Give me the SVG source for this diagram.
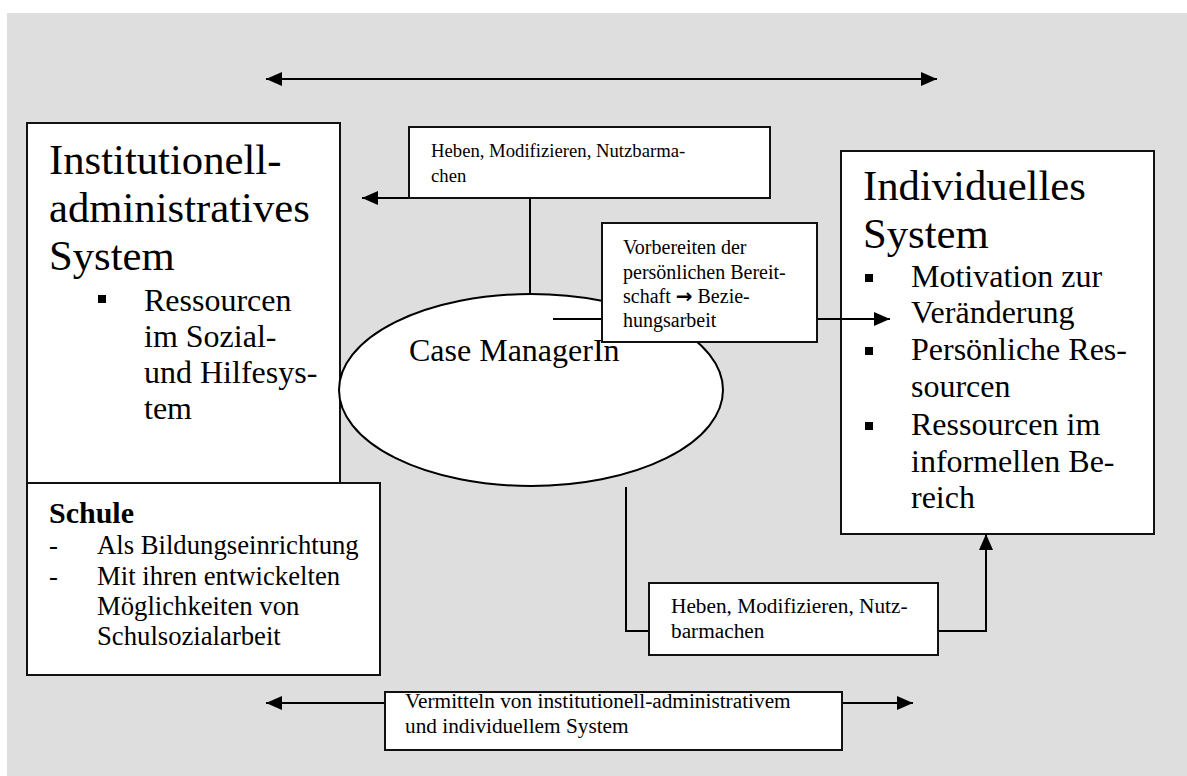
<svg xmlns="http://www.w3.org/2000/svg" width="1187" height="776" viewBox="0 0 1187 776">
<defs>
<style>
.box{fill:#fff;stroke:#111;stroke-width:2}
.t{font-family:"Liberation Serif","Times New Roman",serif;fill:#000}
.big{font-size:42.7px}
.mid{font-size:32px}
.sm{font-size:18.7px}
.sm2{font-size:20px}
.lg{font-size:21.3px}
.md{font-size:26.7px}
.ln{fill:none;stroke:#000;stroke-width:2}
.bul{fill:#000}
.arr{font-family:"DejaVu Sans",sans-serif;font-weight:bold}
</style>
<marker id="ah" viewBox="0 0 16 14" refX="16" refY="7" markerWidth="16" markerHeight="14" markerUnits="userSpaceOnUse" orient="auto-start-reverse">
<path d="M0,0 L16,7 L0,14 z" fill="#000"/>
</marker>
</defs>
<rect x="7" y="13" width="1180" height="763" fill="#dedede"/>

<g id="inst">
<rect class="box" x="27" y="123" width="313" height="360"/>
<text class="t big" x="49" y="174">Institutionell-</text>
<text class="t big" x="49" y="222">administratives</text>
<text class="t big" x="49" y="270">System</text>
<rect class="bul" x="98" y="295" width="8" height="8"/>
<text class="t mid" x="144" y="311">Ressourcen</text>
<text class="t mid" x="144" y="347">im Sozial-</text>
<text class="t mid" x="144" y="383">und Hilfesys-</text>
<text class="t mid" x="144" y="419">tem</text>
</g>

<g id="schule">
<rect class="box" x="27" y="483" width="353" height="192"/>
<text class="t" x="49" y="523" font-size="30" font-weight="bold">Schule</text>
<text class="t md" x="49" y="554">-</text>
<text class="t md" x="97" y="554">Als Bildungseinrichtung</text>
<text class="t md" x="49" y="585">-</text>
<text class="t md" x="97" y="585">Mit ihren entwickelten</text>
<text class="t md" x="97" y="615">Möglichkeiten von</text>
<text class="t md" x="97" y="645">Schulsozialarbeit</text>
</g>

<g id="case">
<ellipse cx="531" cy="390" rx="192" ry="96" fill="#fff" stroke="#000" stroke-width="2"/>
<text class="t mid" x="409" y="361">Case ManagerIn</text>
</g>

<g id="indiv">
<rect class="box" x="841" y="151" width="313" height="383"/>
<text class="t big" x="863" y="200">Individuelles</text>
<text class="t big" x="863" y="248">System</text>
<rect class="bul" x="865" y="274" width="8" height="8"/>
<text class="t mid" x="911" y="287">Motivation zur</text>
<text class="t mid" x="911" y="323">Veränderung</text>
<rect class="bul" x="865" y="347" width="8" height="8"/>
<text class="t mid" x="911" y="360">Persönliche Res-</text>
<text class="t mid" x="911" y="397">sourcen</text>
<rect class="bul" x="865" y="422" width="8" height="8"/>
<text class="t mid" x="911" y="435">Ressourcen im</text>
<text class="t mid" x="911" y="472">informellen Be-</text>
<text class="t mid" x="911" y="508">reich</text>
</g>

<g id="connectors">
<path class="ln" d="M266,79 L937,79" marker-start="url(#ah)" marker-end="url(#ah)"/>
<path class="ln" d="M409,198 L362,198" marker-end="url(#ah)"/>
<path class="ln" d="M530,198 L530,294"/>
<path class="ln" d="M553,319 L602,319"/>
<path class="ln" d="M817,319 L890,319" marker-end="url(#ah)"/>
<path class="ln" d="M626,487 L626,631 L649,631"/>
<path class="ln" d="M938,631 L986,631 L986,534" marker-end="url(#ah)"/>
<path class="ln" d="M385,703 L266,703" marker-end="url(#ah)"/>
<path class="ln" d="M842,703 L913,703" marker-end="url(#ah)"/>
</g>

<g id="lbl-top">
<rect class="box" x="409" y="127" width="361" height="71"/>
<text class="t sm" x="431" y="157">Heben, Modifizieren, Nutzbarma-</text>
<text class="t sm" x="431" y="182">chen</text>
</g>

<g id="lbl-mid">
<rect class="box" x="602" y="223" width="215" height="119"/>
<text class="t sm2" x="623" y="254">Vorbereiten der</text>
<text class="t sm2" x="623" y="279">persönlichen Bereit-</text>
<text class="t sm2" x="623" y="303">schaft <tspan class="arr">→</tspan> Bezie-</text>
<text class="t sm2" x="623" y="327">hungsarbeit</text>
</g>

<g id="lbl-bottomright">
<rect class="box" x="649" y="583" width="289" height="72"/>
<text class="t lg" x="671" y="613">Heben, Modifizieren, Nutz-</text>
<text class="t lg" x="671" y="638">barmachen</text>
</g>

<g id="lbl-bottom">
<rect class="box" x="385" y="692" width="457" height="58"/>
<text class="t lg" x="405" y="708">Vermitteln von institutionell-administrativem</text>
<text class="t lg" x="405" y="733">und individuellem System</text>
</g>
</svg>
